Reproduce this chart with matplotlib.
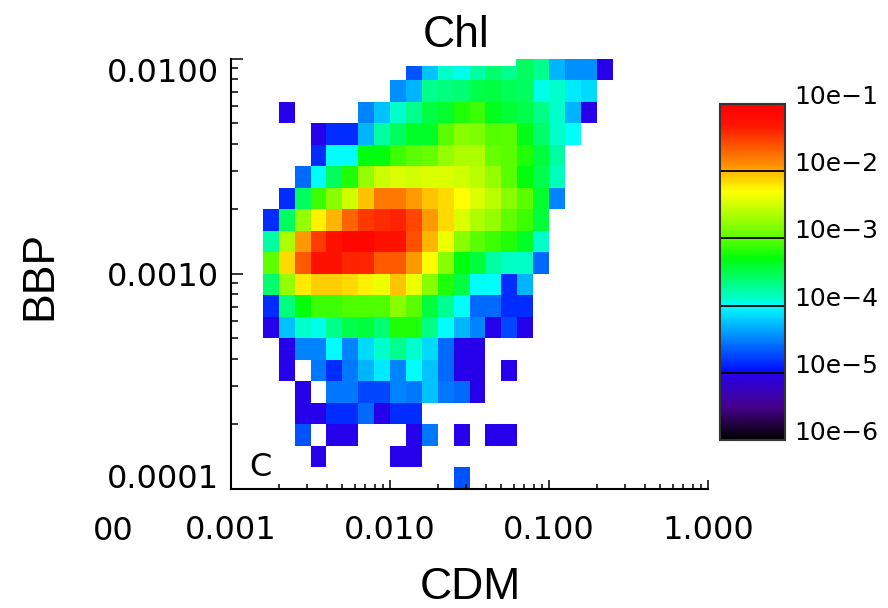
import numpy as np
import matplotlib
matplotlib.use("Agg")
import matplotlib.pyplot as plt
from matplotlib.colors import LinearSegmentedColormap, LogNorm
from matplotlib.patches import Rectangle

N = np.nan

# log10 of the normalised frequency in each CDM / BBP bin (top row first)
log_freq = [
    [N, N, N, N, N, N, N, N, N, -4.7, -4.25, -3.9, -3.95, -3.77, -3.6, -3.7, -3.55, -3.7, -4.3, -4.45, -4.45, -5.02],
    [N, N, N, N, N, N, N, N, -4.45, -4.3, -3.7, -3.65, -3.62, -3.5, -3.47, -3.52, -3.55, -3.95, -3.9, -4.08, -4.15, N],
    [N, -5.02, N, N, N, N, -4.5, -4.25, -3.9, -3.7, -3.47, -3.4, -3.2, -3.1, -3.35, -3.43, -3.5, -3.68, -3.9, -4.3, -5.02, N],
    [N, N, N, -5.02, -4.85, -4.85, -4.3, -3.77, -3.55, -3.38, -3.38, -3.0, -2.8, -2.85, -3.02, -3.0, -3.33, -3.58, -3.9, -4.0, N, N],
    [N, N, N, -4.85, -4.0, -4.0, -3.3, -3.3, -3.1, -3.0, -2.95, -2.75, -2.65, -2.65, -2.95, -3.0, -3.2, -3.45, -3.77, N, N, N],
    [N, N, -4.6, -4.0, -3.55, -3.2, -2.75, -2.52, -2.45, -2.5, -2.45, -2.45, -2.5, -2.6, -2.75, -3.0, -3.3, -3.5, -3.85, N, N, N],
    [N, -4.85, -3.55, -3.1, -2.8, -2.5, -2.05, -1.8, -1.8, -1.95, -2.05, -2.15, -2.3, -2.45, -2.6, -2.8, -3.0, -3.4, -4.5, N, N, N],
    [-4.85, -3.55, -2.75, -2.25, -2.0, -1.7, -1.48, -1.42, -1.38, -1.55, -1.95, -2.15, -2.45, -2.65, -2.75, -2.97, -3.1, -3.45, N, N, N, N],
    [-3.77, -2.65, -1.95, -1.5, -1.3, -1.1, -1.1, -1.3, -1.3, -1.6, -2.0, -2.37, -2.8, -3.0, -3.1, -3.2, -3.38, -3.9, N, N, N, N],
    [-2.97, -2.15, -1.65, -1.3, -1.3, -1.4, -1.4, -1.65, -1.65, -1.95, -2.3, -2.8, -3.3, -3.45, -3.77, -3.88, -3.88, -4.6, N, N, N, N],
    [-3.6, -2.75, -2.22, -2.1, -2.1, -2.15, -2.25, -2.37, -2.05, -2.37, -2.8, -3.2, -3.47, -4.0, -4.0, -4.85, -4.3, N, N, N, N, N],
    [-4.85, -3.65, -3.3, -3.1, -3.1, -3.05, -3.05, -3.05, -2.8, -3.0, -3.45, -3.72, -4.0, -4.6, -4.6, -4.85, -4.85, N, N, N, N, N],
    [-5.02, -4.25, -3.9, -3.95, -3.7, -3.5, -3.45, -3.62, -3.2, -3.2, -3.67, -4.0, -4.3, -4.5, -5.02, -4.75, -5.02, N, N, N, N, N],
    [N, -5.02, -4.5, -4.5, -4.0, -4.5, -4.15, -3.9, -3.7, -3.9, -4.15, -4.6, -5.02, -5.02, N, N, N, N, N, N, N, N],
    [N, -5.02, N, -4.55, -4.85, -4.55, -4.3, -4.08, -4.5, -4.0, -4.25, -4.6, -5.02, -5.02, N, -5.02, N, N, N, N, N, N],
    [N, N, -5.02, N, -4.55, -4.55, -4.75, -4.75, -4.5, -4.55, -4.25, -4.55, -4.6, -5.02, N, N, N, N, N, N, N, N],
    [N, N, -5.02, -5.02, -4.85, -4.85, -4.6, -5.02, -4.85, -4.85, N, N, N, N, N, N, N, N, N, N, N, N],
    [N, N, -4.7, N, -5.02, -5.02, N, N, N, -5.02, -4.55, N, -5.02, N, -5.02, -5.02, N, N, N, N, N, N],
    [N, N, N, -5.02, N, N, N, N, -5.02, -5.02, N, N, N, N, N, N, N, N, N, N, N, N],
    [N, N, N, N, N, N, N, N, N, N, N, N, -4.7, N, N, N, N, N, N, N, N, N],
]

# bin edges in log10 units (0.1 decade bins)
cdm_edges_log = np.round(np.arange(-2.8, -0.55, 0.1), 2)
bbp_edges_log = np.round(np.arange(-4.0, -1.95, 0.1), 2)

x_ticks = [1e-3, 1e-2, 1e-1, 1.0]
x_ticklabels = ["0.001", "0.010", "0.100", "1.000"]
y_ticks = [1e-4, 1e-3, 1e-2]
y_ticklabels = ["0.0001", "0.0010", "0.0100"]
cb_ticks = [1e-1, 1e-2, 1e-3, 1e-4, 1e-5, 1e-6]
cb_ticklabels = ["10e\u22121", "10e\u22122", "10e\u22123", "10e\u22124", "10e\u22125", "10e\u22126"]

# rainbow palette laid out over log10 frequency from -6 to -1
stops = [
    (-6.0, (0.0, 0.0, 0.0)),
    (-5.5, (0.28, 0.0, 0.55)),
    (-5.02, (0.15, 0.0, 0.92)),
    (-4.98, (0.0, 0.05, 1.0)),
    (-4.0, (0.0, 1.0, 1.0)),
    (-3.9, (0.0, 1.0, 0.8)),
    (-3.3, (0.0, 1.0, 0.05)),
    (-3.05, (0.3, 1.0, 0.0)),
    (-2.3, (1.0, 1.0, 0.0)),
    (-2.0, (1.0, 0.72, 0.0)),
    (-1.95, (1.0, 0.6, 0.0)),
    (-1.3, (1.0, 0.07, 0.0)),
    (-1.0, (1.0, 0.0, 0.0)),
]
cmap = LinearSegmentedColormap.from_list(
    "chl_rainbow", [((v + 6.0) / 5.0, c) for v, c in stops], N=512)

W, H = 888, 608
fig = plt.figure(figsize=(W / 100, H / 100), dpi=100, facecolor="white")

def px_axes(x0, y0, x1, y1):
    return fig.add_axes([x0 / W, 1 - y1 / H, (x1 - x0) / W, (y1 - y0) / H])

ax = px_axes(231, 58.5, 708, 488.5)

freq = 10.0 ** np.array(log_freq, dtype=float)[::-1]
mesh = ax.pcolormesh(10.0 ** cdm_edges_log, 10.0 ** bbp_edges_log,
                     np.ma.masked_invalid(freq), cmap=cmap,
                     norm=LogNorm(1e-6, 1e-1), shading="flat",
                     antialiased=False)

ax.set_xscale("log")
ax.set_yscale("log")
ax.set_xlim(1e-3, 1.0)
ax.set_ylim(1e-4, 1e-2)
for side in ("top", "right"):
    ax.spines[side].set_visible(False)
for side in ("left", "bottom"):
    ax.spines[side].set_linewidth(1.5)
    ax.spines[side].set_color("black")

ax.set_xticks(x_ticks, x_ticklabels)
ax.set_yticks(y_ticks, y_ticklabels)
ax.tick_params(axis="x", which="major", direction="in", length=6.5, width=1.1,
               pad=19, labelsize=23)
ax.tick_params(axis="x", which="minor", direction="in", length=3.6, width=1.1)
ax.tick_params(axis="y", which="major", direction="in", length=8.6, width=1.1,
               pad=8.6, labelsize=23)
ax.tick_params(axis="y", which="minor", direction="in", length=5.0, width=1.1)
ax.xaxis.set_minor_formatter(plt.NullFormatter())
ax.yaxis.set_minor_formatter(plt.NullFormatter())
for tick, va in zip(ax.yaxis.get_major_ticks(), ["baseline", "center_baseline", "top"]):
    tick.label1.set_verticalalignment(va)

ax.text(0.061, 0.057, "C", transform=ax.transAxes, fontsize=23,
        ha="center", va="center_baseline")

# colour bar
cax = px_axes(720, 104, 785, 440)
cb = fig.colorbar(mesh, cax=cax)
cb.minorticks_off()
cb.set_ticks(cb_ticks)
cb.set_ticklabels(cb_ticklabels)
cax.tick_params(length=0, pad=7, labelsize=18)
for lbl in cax.get_yticklabels():
    lbl.set_verticalalignment("baseline")
for v in cb_ticks[1:-1]:
    cax.axhline(v, color="black", lw=1.3)
cb.outline.set_edgecolor("#333333")
cb.outline.set_linewidth(1.5)

# white box behind the title
fig.add_artist(Rectangle((405 / W, 1 - 66 / H), (516 - 405) / W, 66 / H,
                         transform=fig.transFigure, facecolor="white",
                         edgecolor="none", zorder=2.5))

label_font = dict(family="Liberation Sans", fontsize=32)
fig.text(456 / W, 1 - 31 / H, "Chl", ha="center", va="center_baseline", **label_font)
fig.text(470 / W, 1 - 583 / H, "CDM", ha="center", va="center_baseline", **label_font)
fig.text(40 / W, 1 - 275 / H, "BBP", rotation=90, ha="center", va="center", **label_font)
fig.text(113 / W, 1 - 528 / H, "00", ha="center", va="center_baseline", fontsize=23)

fig.savefig("out.png", dpi=100, facecolor="white")
